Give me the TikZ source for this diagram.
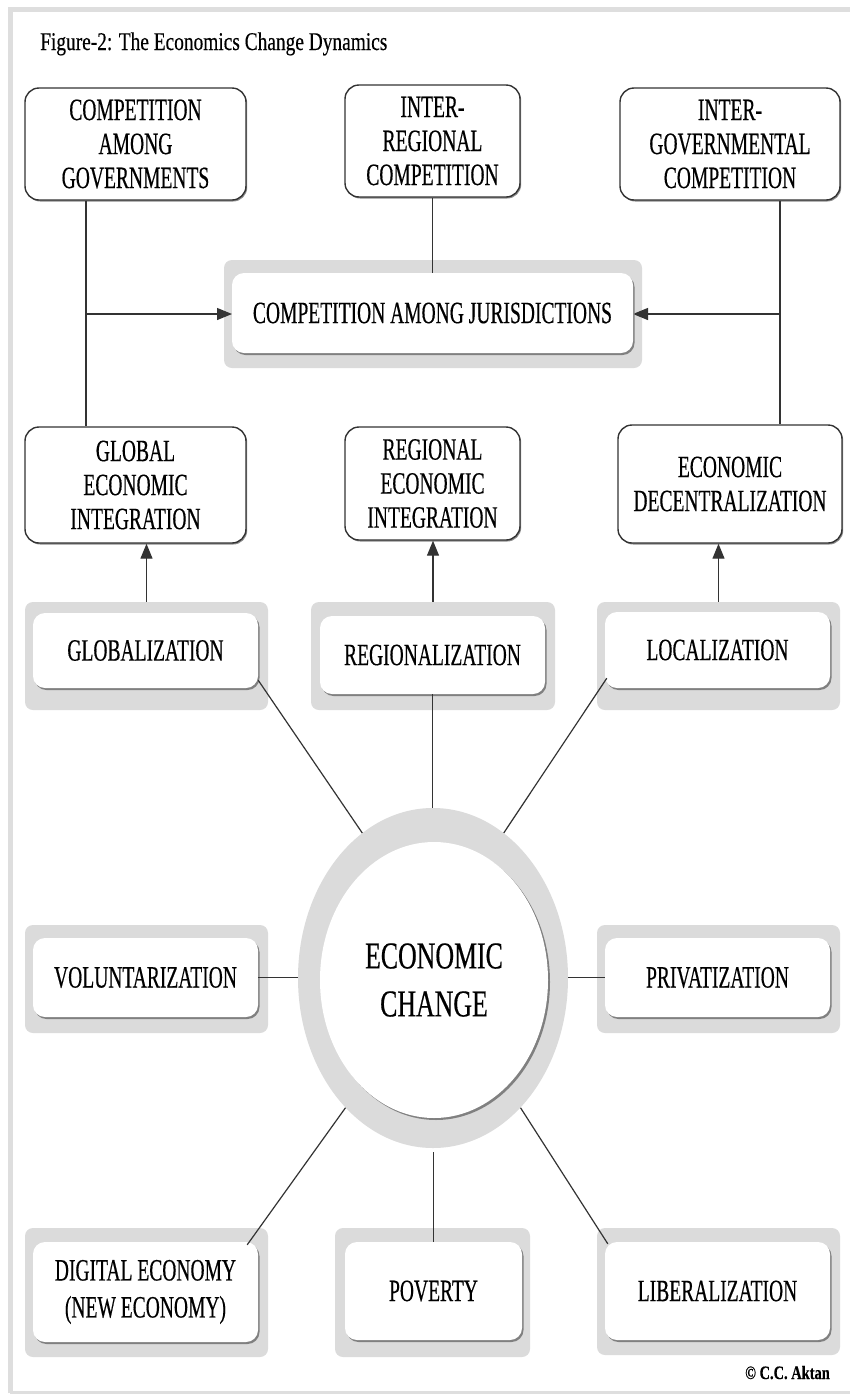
\documentclass[tikz,border=0pt]{standalone}
\usepackage{fontspec}
\setmainfont{Liberation Serif}
\newfontfamily\boxfont[FakeStretch=0.63,FakeBold=0.4]{Liberation Serif}
\newfontfamily\ttlfont[FakeStretch=0.76,FakeBold=0.3]{Liberation Serif}
\newfontfamily\bigfont[FakeStretch=0.68,FakeBold=0.4]{Liberation Serif}
\usetikzlibrary{shapes.geometric,shadows,arrows.meta}

\begin{document}
\begin{tikzpicture}[x=1pt,y=-1pt,
  lbl/.style={font=\boxfont\fontsize{31}{34}\selectfont, align=center, inner sep=0pt},
  topbox/.style={lbl, draw=black!80, line width=1.4pt, rounded corners=14pt, fill=white,
    drop shadow={shadow xshift=1.2pt, shadow yshift=-1.5pt, fill=black!45, opacity=1}},
  backdrop/.style={fill=black!14, rounded corners=8pt, inner sep=0pt},
  whitebox/.style={lbl, fill=white, rounded corners=12pt,
    drop shadow={shadow xshift=1.5pt, shadow yshift=-2pt, fill=black!50, opacity=1}},
  link/.style={draw=black!80, line width=1.2pt},
  arrow/.style={link, -{Triangle[length=15pt,width=12pt]}},
]
% page and frame
\fill[white] (0,0) rectangle (850,1395);
\useasboundingbox (0,0) rectangle (850,1395);
\draw[black!13, line width=5pt] (10,1393) -- (10,9) -- (850,9);
\draw[black!13, line width=3pt] (10,1392) -- (850,1392);

% title and credit
\node[font=\ttlfont\fontsize{25.5}{30}\selectfont, anchor=base west, inner sep=0pt] (title) at (40,50) {Figure-2: The Economics Change Dynamics};
\node[font=\ttlfont\bfseries\fontsize{19}{24}\selectfont, anchor=base east, inner sep=0pt] (credit) at (830,1379) {© C.C. Aktan};

% upper outlined boxes
\node[topbox, minimum width=221pt, minimum height=112pt] (cag) at (135.5,144) {COMPETITION\\AMONG\\GOVERNMENTS};
\node[topbox, minimum width=175pt, minimum height=112pt] (irc) at (432.5,141) {INTER-\\REGIONAL\\COMPETITION};
\node[topbox, minimum width=220pt, minimum height=112pt] (igc) at (730,144) {INTER-\\GOVERNMENTAL\\COMPETITION};
\node[topbox, minimum width=221pt, minimum height=116pt] (gei) at (135.5,485) {GLOBAL\\ECONOMIC\\INTEGRATION};
\node[topbox, minimum width=175pt, minimum height=113pt] (rei) at (432.5,483.5) {REGIONAL\\ECONOMIC\\INTEGRATION};
\node[topbox, minimum width=224pt, minimum height=118pt] (edc) at (730,484) {ECONOMIC\\DECENTRALIZATION};

% grey backdrops
\node[backdrop, minimum width=418pt, minimum height=108pt] (cajbg) at (433,314) {};
\node[backdrop, minimum width=243pt, minimum height=108pt] (globbg) at (146.5,656) {};
\node[backdrop, minimum width=244pt, minimum height=108pt] (regbg) at (433,656) {};
\node[backdrop, minimum width=243pt, minimum height=108pt] (locbg) at (718.5,656) {};
\node[backdrop, minimum width=243pt, minimum height=108pt] (volbg) at (146.5,979) {};
\node[backdrop, minimum width=243pt, minimum height=108pt] (privbg) at (718.5,979) {};
\node[backdrop, minimum width=243pt, minimum height=129pt] (digbg) at (146.5,1292.5) {};
\node[backdrop, minimum width=195pt, minimum height=129pt] (povbg) at (432.5,1292.5) {};
\node[backdrop, minimum width=243pt, minimum height=127pt] (libbg) at (718.5,1291.5) {};

% central ring
\node[ellipse, fill=black!14, minimum width=270pt, minimum height=340pt, inner sep=0pt] (ring) at (433,978) {};

% connectors of the upper part
\coordinate (cl) at (86,0);
\coordinate (cr) at (780,0);
\draw[link] (cl |- cag.south) -- (cl |- gei.north);
\draw[link] (cr |- igc.south) -- (cr |- edc.north);
\draw[arrow] (cl |- cajbg.center) -- (232,314);
\draw[arrow] (cr |- cajbg.center) -- (633,314);
\draw[link] (irc.south) -- (irc.south |- cajbg.north) -- ++(0,13);
\draw[arrow] (globbg.north) -- (globbg.north |- gei.south);
\draw[arrow] (regbg.north) -- (regbg.north |- rei.south);
\draw[arrow] (locbg.north) -- (locbg.north |- edc.south);

% white boxes
\node[whitebox, minimum width=401pt, minimum height=80pt] (caj) at (432.5,313) {COMPETITION AMONG JURISDICTIONS};
\node[whitebox, minimum width=225pt, minimum height=75pt] (globw) at (145.5,650.5) {GLOBALIZATION};
\node[whitebox, minimum width=225pt, minimum height=78pt] (regw) at (432.5,655) {REGIONALIZATION};
\node[whitebox, minimum width=225pt, minimum height=76pt] (locw) at (717.5,650) {LOCALIZATION};
\node[whitebox, minimum width=225pt, minimum height=79pt] (volw) at (145.5,977.5) {VOLUNTARIZATION};
\node[whitebox, minimum width=225pt, minimum height=79pt] (privw) at (717.5,977.5) {PRIVATIZATION};
\node[whitebox, minimum width=225pt, minimum height=100pt] (digw) at (145.5,1292) {DIGITAL ECONOMY\\[3pt](NEW ECONOMY)};
\node[whitebox, minimum width=177pt, minimum height=98pt] (povw) at (433.5,1291) {POVERTY};
\node[whitebox, minimum width=225pt, minimum height=98pt] (libw) at (717.5,1291) {LIBERALIZATION};

% centre
\node[ellipse, fill=white, minimum width=228pt, minimum height=276pt, inner sep=0pt, align=center,
  font=\bigfont\fontsize{38}{48}\selectfont,
  drop shadow={shadow xshift=2pt, shadow yshift=-2pt, fill=black!50, opacity=1}] (ec) at (434,980) {ECONOMIC\\CHANGE};

% spokes around the centre
\draw[link] ([yshift=8pt]globw.south east) -- (ring.116);
\draw[link] (regw.south) -- (regw.south |- ring.north);
\draw[link] ([xshift=2pt,yshift=10pt]locw.south west) -- (ring.64);
\draw[link] (volw.east) -- (volw.east -| ring.west);
\draw[link] (privw.west) -- (privw.west -| ring.east);
\draw[link] ([xshift=-11pt,yshift=-3pt]digw.north east) -- (ring.236);
\draw[link] (povw.north) -- ([yshift=-4pt]povw.north |- ring.south);
\draw[link] ([xshift=3pt,yshift=-2pt]libw.north west) -- (ring.304);
\end{tikzpicture}
\end{document}
